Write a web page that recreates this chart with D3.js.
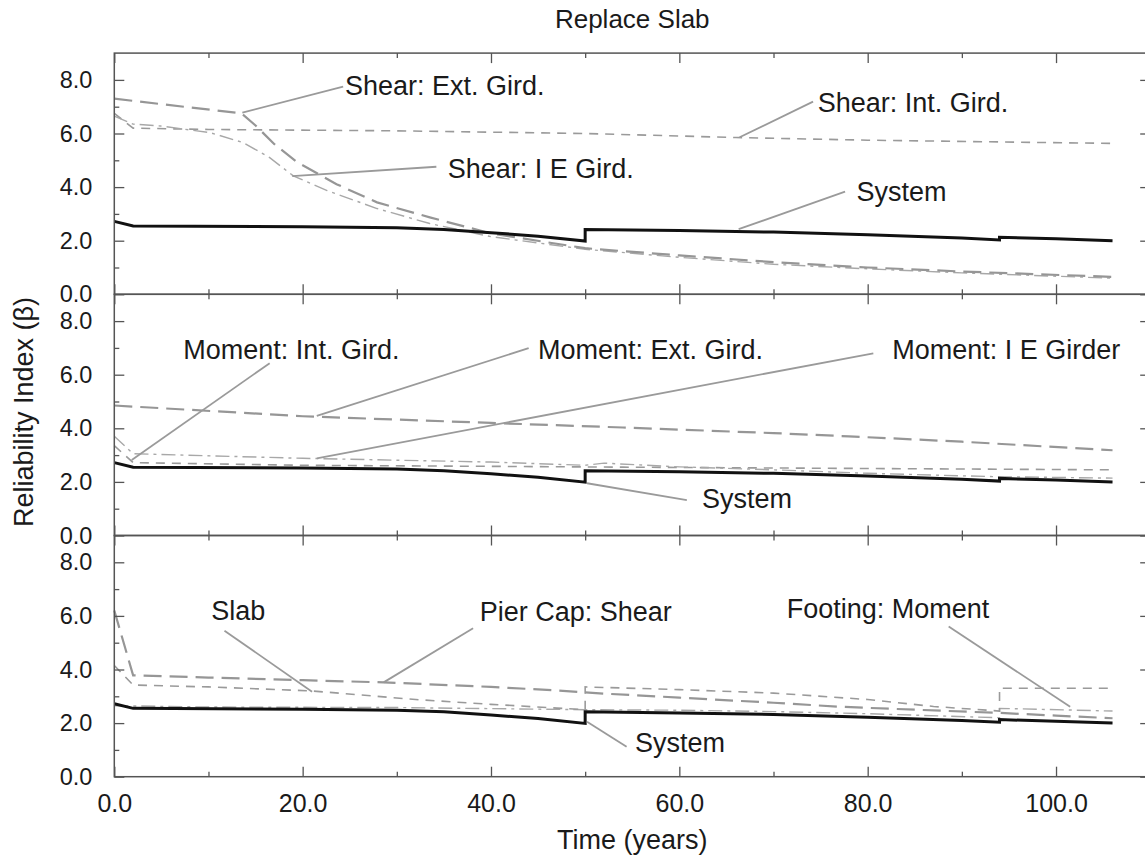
<!DOCTYPE html>
<html>
<head>
<meta charset="utf-8">
<script src="https://cdn.jsdelivr.net/npm/d3@7"></script>
<style>
  html, body { margin: 0; padding: 0; background: #fff; }
  svg { display: block; font-family: "Liberation Sans", Arial, Helvetica, sans-serif; }
</style>
</head>
<body>
<svg id="chart" width="1145" height="857"></svg>
<script>
// ---------------- DATA ----------------
const title = "Replace Slab";
const xLabel = "Time (years)";
const yLabel = "Reliability Index (β)";
const xMajorTicks = [0, 20, 40, 60, 80, 100];
const xMinorTicks = [10, 30, 50, 70, 90, 110];
const yMajorTicks = [0, 2, 4, 6, 8];
const yMinorTicks = [1, 3, 5, 7];

// [time, beta] pairs; repeated times mark replacement jumps
const system = [[0,2.72],[2,2.55],[20,2.52],[30,2.48],[35,2.42],[40,2.3],[45,2.17],[50,1.99],[50,2.42],[60,2.38],[70,2.32],[80,2.22],[90,2.1],[94,2.03],[94,2.13],[100,2.07],[106,2.0]];

// Panel 1: shear
const shearExtGird = [[0,7.3],[13.5,6.75],[15,6.3],[17,5.6],[19.4,4.93],[23.6,4.11],[27.9,3.43],[33.5,2.87],[40,2.27],[50,1.72],[60,1.45],[70,1.2],[80,1.0],[90,0.85],[106,0.65]];
const shearIntGird = [[0,6.75],[2,6.2],[10,6.15],[30,6.1],[50,6.0],[66,5.85],[80,5.75],[106,5.63]];
const shearIEGird  = [[0,6.65],[2,6.35],[4.9,6.28],[10.2,6.03],[13.7,5.66],[16.5,5.1],[19,4.42],[22.6,3.87],[27.9,3.2],[33.5,2.64],[40,2.15],[50,1.68],[60,1.38],[70,1.12],[80,0.95],[90,0.8],[106,0.6]];

// Panel 2: moment
const momentExtGird = [[0,4.85],[20,4.45],[40,4.2],[54,4.03],[70,3.82],[78,3.7],[90,3.5],[106,3.18]];
const momentIntGird = [[0,3.35],[2,2.72],[20,2.62],[40,2.58],[54,2.55],[80,2.5],[106,2.45]];
const momentIEGirder = [[0,3.7],[2,3.05],[20,2.88],[40,2.74],[50,2.62],[52,2.7],[60,2.56],[70,2.45],[80,2.32],[93,2.2],[106,2.14]];

// Panel 3: substructure / slab
const slab = [[0,4.15],[2,3.42],[10,3.35],[21,3.2],[32,2.88],[40,2.7],[47,2.56],[50,2.5],[50,3.35],[60,3.25],[70,3.12],[80,2.88],[87,2.62],[94,2.45],[94,3.3],[106,3.3]];
const pierCapShear = [[0,6.2],[2,3.78],[10,3.7],[20,3.6],[28.6,3.52],[40,3.35],[47,3.22],[52,3.1],[60,2.95],[70,2.76],[77,2.61],[85,2.5],[94,2.38],[100,2.28],[106,2.18]];
const footingMoment = [[0,2.65],[10,2.6],[30,2.58],[45,2.52],[50,2.5],[60,2.48],[70,2.43],[80,2.35],[94,2.2],[94,2.55],[106,2.45]];

// Annotation labels: text anchor (t, beta) and leader from/to (t, beta)
const annotations1 = [
  {text:"Shear: Ext. Gird.",  tx:24.5, ty:7.44, from:[24.3,7.75], to:[13.6,6.78]},
  {text:"Shear: Int. Gird.",  tx:74.7, ty:6.80, from:[74.2,7.19], to:[66.4,5.86]},
  {text:"Shear: I E Gird.",   tx:35.4, ty:4.34, from:[34.2,4.76], to:[18.9,4.41]},
  {text:"System",             tx:78.8, ty:3.48, from:[77.6,3.83], to:[66.3,2.43]}
];
const annotations2 = [
  {text:"Moment: Int. Gird.", tx:7.33, ty:6.59, from:[16.5,6.43], to:[1.85,2.82]},
  {text:"Moment: Ext. Gird.", tx:45.0, ty:6.59, from:[44.0,6.99], to:[21.5,4.46]},
  {text:"Moment: I E Girder", tx:82.6, ty:6.59, from:[80.6,6.80], to:[21.5,2.88]},
  {text:"System",             tx:62.4, ty:1.04, from:[60.8,1.32], to:[50.2,1.95]}
];
const annotations3 = [
  {text:"Slab",               tx:10.3, ty:5.85, from:[11.7,5.45], to:[21.0,3.17]},
  {text:"Pier Cap: Shear",    tx:38.8, ty:5.81, from:[38.1,5.54], to:[28.6,3.52]},
  {text:"Footing: Moment",    tx:71.4, ty:5.91, from:[88.6,5.60], to:[101.5,2.61]},
  {text:"System",             tx:55.3, ty:0.92, from:[54.4,1.12], to:[50.2,2.05]}
];

// ---------------- STYLES ----------------
const styles = {
  system:  {stroke:"#111", width:3.0, dash:null},
  longDash:{stroke:"#969696", width:2.2, dash:"18,8"},
  shortDash:{stroke:"#9a9a9a", width:1.6, dash:"9,7"},
  dashDot: {stroke:"#a8a8a8", width:1.4, dash:"14,5,3,5"}
};

const panels = [
  {series:[[shearIntGird,"shortDash"],[shearIEGird,"dashDot"],[shearExtGird,"longDash"],[system,"system"]], ann:annotations1},
  {series:[[momentIntGird,"shortDash"],[momentIEGirder,"dashDot"],[momentExtGird,"longDash"],[system,"system"]], ann:annotations2},
  {series:[[footingMoment,"dashDot"],[slab,"shortDash"],[pierCapShear,"longDash"],[system,"system"]], ann:annotations3}
];

// ---------------- LAYOUT ----------------
const svg = d3.select("#chart");
const left = 114.3, right = 1150.2;
const top0 = 53.1, panelH = 241.2;
const x = d3.scaleLinear().domain([0, 110]).range([left, right]);

const axisColor = "#555";
const textColor = "#1a1a1a";
const yTickFont = 23.5, xTickFont = 25, annFont = 27;

svg.append("text")
  .attr("x", (left + right) / 2).attr("y", 28)
  .attr("text-anchor", "middle").attr("font-size", 26).attr("fill", textColor)
  .text(title);

panels.forEach((p, i) => {
  const pTop = top0 + i * panelH;
  const pBot = pTop + panelH;
  const y = d3.scaleLinear().domain([0, 9]).range([pBot, pTop]);
  const g = svg.append("g");

  // series
  const line = d3.line().x(d => x(d[0])).y(d => y(d[1]));
  p.series.forEach(([data, key]) => {
    const s = styles[key];
    g.append("path").datum(data)
      .attr("d", line).attr("fill", "none")
      .attr("stroke", s.stroke).attr("stroke-width", s.width)
      .attr("stroke-dasharray", s.dash)
      .attr("stroke-linejoin", "miter");
  });

  // frame
  g.append("rect").attr("x", left).attr("y", pTop)
    .attr("width", right - left).attr("height", panelH)
    .attr("fill", "none").attr("stroke", axisColor).attr("stroke-width", 1.5);

  const mkAxis = (axis, vals, size) => axis.tickValues(vals).tickSize(size).tickFormat("");
  const styleAxis = sel => { sel.select(".domain").remove(); sel.selectAll("line").attr("stroke", axisColor).attr("stroke-width", 1.3); };

  // x ticks: bottom and top (inward)
  g.append("g").attr("transform", `translate(0,${pBot})`).call(mkAxis(d3.axisBottom(x), xMajorTicks, -10)).call(styleAxis);
  g.append("g").attr("transform", `translate(0,${pBot})`).call(mkAxis(d3.axisBottom(x), xMinorTicks, -5)).call(styleAxis);
  g.append("g").attr("transform", `translate(0,${pTop})`).call(mkAxis(d3.axisTop(x), xMajorTicks, -10)).call(styleAxis);
  g.append("g").attr("transform", `translate(0,${pTop})`).call(mkAxis(d3.axisTop(x), xMinorTicks, -5)).call(styleAxis);

  // y ticks: left (labelled) and right
  const yl = g.append("g").attr("transform", `translate(${left},0)`)
    .call(d3.axisLeft(y).tickValues(yMajorTicks).tickSize(-10).tickPadding(22).tickFormat(d3.format(".1f")))
    .call(styleAxis);
  yl.selectAll("text").attr("font-size", yTickFont).attr("fill", textColor).attr("font-family", "Liberation Sans, Arial, sans-serif");
  g.append("g").attr("transform", `translate(${left},0)`).call(mkAxis(d3.axisLeft(y), yMinorTicks, -5)).call(styleAxis);
  g.append("g").attr("transform", `translate(${right},0)`).call(mkAxis(d3.axisRight(y), yMajorTicks, -10)).call(styleAxis);
  g.append("g").attr("transform", `translate(${right},0)`).call(mkAxis(d3.axisRight(y), yMinorTicks, -5)).call(styleAxis);

  // bottom labels on last panel
  if (i === panels.length - 1) {
    const xl = g.append("g").attr("transform", `translate(0,${pBot})`)
      .call(d3.axisBottom(x).tickValues(xMajorTicks).tickSize(0).tickPadding(18).tickFormat(d3.format(".1f")));
    xl.select(".domain").remove();
    xl.selectAll("text").attr("font-size", xTickFont).attr("fill", textColor).attr("font-family", "Liberation Sans, Arial, sans-serif");
  }

  // annotations
  p.ann.forEach(a => {
    g.append("line")
      .attr("x1", x(a.from[0])).attr("y1", y(a.from[1]))
      .attr("x2", x(a.to[0])).attr("y2", y(a.to[1]))
      .attr("stroke", "#9a9a9a").attr("stroke-width", 1.8);
    g.append("text").attr("x", x(a.tx)).attr("y", y(a.ty))
      .attr("font-size", annFont).attr("fill", textColor).text(a.text);
  });
});

svg.append("text")
  .attr("x", (left + right) / 2).attr("y", 849)
  .attr("text-anchor", "middle").attr("font-size", 27).attr("fill", textColor)
  .text(xLabel);

svg.append("text")
  .attr("transform", "translate(33,412) rotate(-90)")
  .attr("text-anchor", "middle").attr("font-size", 27).attr("fill", textColor)
  .text(yLabel);
</script>
</body>
</html>
